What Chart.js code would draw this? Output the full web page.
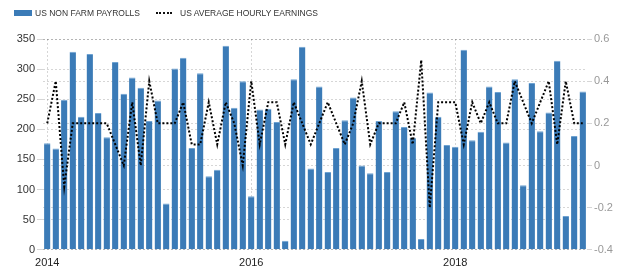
<!DOCTYPE html>
<html>
<head>
<meta charset="utf-8">
<script src="https://cdn.jsdelivr.net/npm/chart.js@4"></script>
<style>
    html, body { margin: 0; padding: 0; background: #fff; }
    #wrap { position: relative; width: 625px; height: 277px; }
    #legend { position: absolute; left: 14px; top: 8px; font: 8.5px "Liberation Sans", Arial, sans-serif; color: #333; display: flex; align-items: center; }
    #legend .item { display: flex; align-items: center; margin-right: 16px; }
    #legend .box { width: 18px; height: 6px; background: #3b7bb7; margin-right: 3px; }
    #legend .dots { width: 16px; border-top: 2px dotted #111; margin-right: 8px; }
</style>
</head>
<body>
<div id="wrap">
    <canvas id="chart" width="625" height="277"></canvas>
    <div id="legend">
        <div class="item"><span class="box"></span>US NON FARM PAYROLLS</div>
        <div class="item"><span class="dots"></span>US AVERAGE HOURLY EARNINGS</div>
    </div>
</div>
<script>
// Monthly data, Jan 2014 - Apr 2019
const startYear = 2014;
const monthCount = 64;

// Non farm payrolls (thousands), left axis
const payrolls = [
    177, 168, 249, 329, 221, 325, 227, 187, 312, 259, 286, 269,
    214, 248, 77, 301, 319, 169, 293, 122, 133, 339, 236, 280,
    89, 233, 234, 212, 15, 283, 337, 135, 271, 129, 169, 215,
    253, 140, 127, 214, 129, 230, 204, 186, 18, 261, 221, 174,
    171, 332, 182, 196, 271, 262, 178, 283, 107, 277, 197, 228,
    314, 56, 189, 263
];

// Average hourly earnings (% MoM), right axis
const earnings = [
    0.2, 0.4, -0.1, 0.2, 0.2, 0.2, 0.2, 0.2, 0.1, 0.0, 0.3, 0.0,
    0.4, 0.2, 0.2, 0.2, 0.3, 0.1, 0.1, 0.3, 0.1, 0.3, 0.2, 0.0,
    0.4, 0.1, 0.3, 0.3, 0.1, 0.3, 0.2, 0.1, 0.2, 0.3, 0.2, 0.1,
    0.2, 0.4, 0.1, 0.2, 0.2, 0.2, 0.3, 0.1, 0.5, -0.2, 0.3, 0.3,
    0.3, 0.1, 0.3, 0.2, 0.3, 0.2, 0.2, 0.4, 0.3, 0.2, 0.3, 0.4,
    0.1, 0.4, 0.2, 0.2
];

const yearTicks = ['2014', '2016', '2018'];

const labels = [];
for (let i = 0; i < monthCount; i++) {
    const y = startYear + Math.floor(i / 12);
    const m = (i % 12) + 1;
    labels.push(y + '-' + (m < 10 ? '0' + m : m));
}

function isYearTick(i) {
    const l = labels[i];
    return l && l.endsWith('-01') && yearTicks.includes(l.slice(0, 4));
}

Chart.defaults.font.family = '"Liberation Sans", Arial, sans-serif';
Chart.defaults.font.size = 11;

const gridGrey = 'rgba(0,0,0,0.16)';

new Chart(document.getElementById('chart').getContext('2d'), {
    data: {
        labels: labels,
        datasets: [
            {
                type: 'line',
                label: 'US AVERAGE HOURLY EARNINGS',
                data: earnings,
                yAxisID: 'y1',
                borderColor: '#000',
                borderWidth: 2,
                borderDash: [2, 2],
                pointRadius: 0,
                tension: 0,
                fill: false,
                order: 0
            },
            {
                type: 'bar',
                label: 'US NON FARM PAYROLLS',
                data: payrolls,
                yAxisID: 'y',
                backgroundColor: '#3b7bb7',
                borderColor: '#6fa3d2',
                borderWidth: { top: 1, left: 0, right: 0, bottom: 0 },
                categoryPercentage: 0.75,
                barPercentage: 1,
                order: 1
            }
        ]
    },
    options: {
        responsive: false,
        animation: false,
        layout: { padding: { top: 39, left: 0, right: 0, bottom: 0 } },
        plugins: {
            legend: { display: false },
            tooltip: { enabled: false }
        },
        scales: {
            x: {
                offset: true,
                grid: {
                    offset: false,
                    drawTicks: false,
                    color: ctx => isYearTick(ctx.index) ? gridGrey : 'transparent'
                },
                border: { display: false, dash: [2, 2] },
                ticks: {
                    autoSkip: false,
                    maxRotation: 0,
                    padding: 7,
                    color: '#222',
                    callback: (v, i) => isYearTick(i) ? labels[i].slice(0, 4) : ''
                }
            },
            y: {
                position: 'left',
                min: 0,
                max: 350,
                afterFit: s => { s.width = 43; },
                grid: { color: gridGrey, tickLength: 6 },
                border: { display: false, dash: [2, 2] },
                ticks: { stepSize: 50, color: '#333', padding: 2 }
            },
            y1: {
                position: 'right',
                min: -0.4,
                max: 0.6,
                afterFit: s => { s.width = 38; },
                grid: { color: gridGrey, tickLength: 5 },
                border: { display: false, dash: [2, 2] },
                ticks: {
                    stepSize: 0.2,
                    color: '#999',
                    padding: 2,
                    callback: v => Math.abs(v) < 1e-9 ? '0' : (Math.round(v * 10) / 10).toString()
                }
            }
        }
    }
});
</script>
</body>
</html>
